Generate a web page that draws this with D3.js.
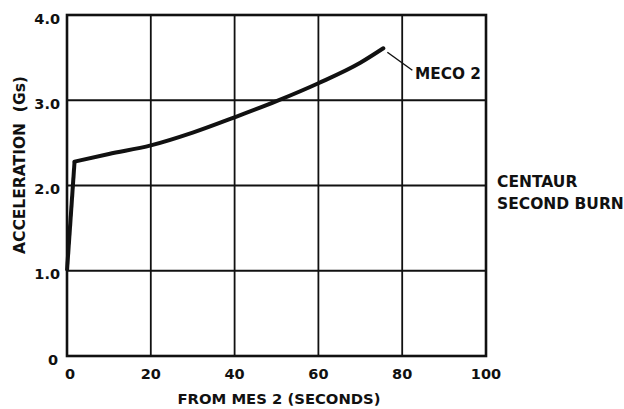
<!DOCTYPE html>
<html><head><meta charset="utf-8">
<script src="https://cdn.jsdelivr.net/npm/d3@7"></script>
<style>body{margin:0;background:#fff}svg{display:block}text{font-family:"DejaVu Sans",sans-serif;font-weight:bold;fill:#111}</style>
</head><body><svg id="c" width="624" height="409"></svg>
<script>
const xTicks = [0, 20, 40, 60, 80, 100];
const yTicks = [0, 1, 2, 3, 4];
const yTickLabels = ["0", "1.0", "2.0", "3.0", "4.0"];
const timeSec = [0, 1.8, 10, 20, 30, 40, 50, 60, 70, 75.5];
const accelG = [1.0, 2.28, 2.37, 2.47, 2.62, 2.80, 2.99, 3.20, 3.44, 3.61];
const labelMeco = "MECO 2";
const labelBurn = ["CENTAUR", "SECOND BURN"];
const xTitle = "FROM MES 2 (SECONDS)";
const yTitle = "ACCELERATION  (Gs)";

const svg = d3.select("#c");
const x = d3.scaleLinear().domain([0, 100]).range([67, 486]);
const y = d3.scaleLinear().domain([0, 4]).range([356, 15]);
const stroke = "#111";

// grid
svg.append("g").selectAll("line").data(xTicks.slice(1, -1)).join("line")
  .attr("x1", d => x(d)).attr("x2", d => x(d)).attr("y1", y(0)).attr("y2", y(4))
  .attr("stroke", stroke).attr("stroke-width", 1.8);
svg.append("g").selectAll("line").data(yTicks.slice(1, -1)).join("line")
  .attr("y1", d => y(d)).attr("y2", d => y(d)).attr("x1", x(0)).attr("x2", x(100))
  .attr("stroke", stroke).attr("stroke-width", 1.8);
// frame
svg.append("rect").attr("x", x(0)).attr("y", y(4)).attr("width", x(100) - x(0)).attr("height", y(0) - y(4))
  .attr("fill", "none").attr("stroke", stroke).attr("stroke-width", 2.6);

// tick labels
svg.append("g").selectAll("text").data(yTicks).join("text")
  .attr("x", d => d === 0 ? 58 : 60).attr("y", d => y(d) + 8.5).attr("text-anchor", "end")
  .attr("font-size", 14.5).text((d, i) => yTickLabels[i]);
svg.append("g").selectAll("text").data(xTicks).join("text")
  .attr("x", d => x(d) + (d === 0 ? 3 : 0)).attr("y", 379).attr("text-anchor", "middle")
  .attr("font-size", 14.5).text(d => d);

// titles
svg.append("text").attr("x", 279).attr("y", 404).attr("text-anchor", "middle")
  .attr("font-size", 14.8).text(xTitle);
svg.append("text").attr("transform", "translate(24.5,165) rotate(-90)").attr("text-anchor", "middle")
  .attr("font-size", 15.5).style("white-space", "pre").text(yTitle);

// curve
const pts = timeSec.map((t, i) => [t, accelG[i]]);
const gen = d3.line().x(d => x(d[0])).y(d => y(d[1]));
svg.append("path")
  .attr("d", gen.curve(d3.curveLinear)(pts.slice(0, 2)))
  .attr("fill", "none").attr("stroke", stroke).attr("stroke-width", 4).attr("stroke-linejoin", "round");
svg.append("path")
  .attr("d", gen.curve(d3.curveMonotoneX)(pts.slice(1)))
  .attr("fill", "none").attr("stroke", stroke).attr("stroke-width", 4).attr("stroke-linecap", "round");

// annotations
const end = pts[pts.length - 1];
svg.append("line").attr("x1", x(end[0]) + 4).attr("y1", y(end[1]) + 4)
  .attr("x2", x(end[0]) + 29).attr("y2", y(end[1]) + 22).attr("stroke", stroke).attr("stroke-width", 1.4);
svg.append("text").attr("x", 415).attr("y", 79).attr("font-size", 15.3).text(labelMeco);
svg.append("text").attr("x", 497).attr("y", 187).attr("font-size", 15.5).text(labelBurn[0]);
svg.append("text").attr("x", 497).attr("y", 209).attr("font-size", 15.5).text(labelBurn[1]);
</script></body></html>
